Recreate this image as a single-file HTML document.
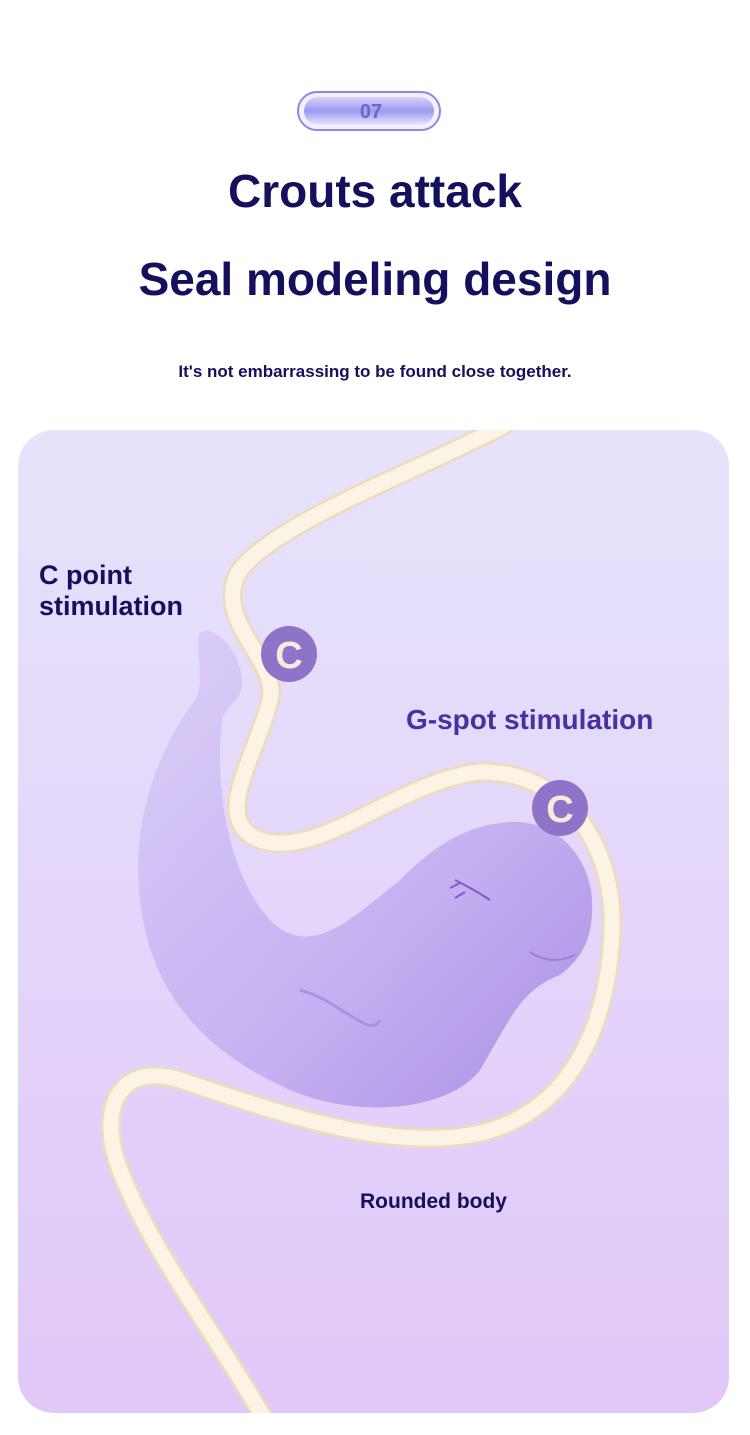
<!DOCTYPE html>
<html><head><meta charset="utf-8"><style>
body{margin:0;width:750px;height:1435px;background:#fff;position:relative;font-family:"Liberation Sans",sans-serif;overflow:hidden}
.t{position:absolute;left:0;width:750px;text-align:center;color:#14105e;font-weight:bold}
</style></head><body>
<svg width="750" height="1435" style="position:absolute;left:0;top:0">
<defs>
<linearGradient id="bg" x1="0" y1="0" x2="0" y2="1"><stop offset="0" stop-color="#e6e3fb"/><stop offset="1" stop-color="#e1c8f9"/></linearGradient>
<linearGradient id="pill" x1="0" y1="0" x2="0" y2="1"><stop offset="0" stop-color="#d6d4fb"/><stop offset=".5" stop-color="#9d98f0"/><stop offset="1" stop-color="#e8e6ff"/></linearGradient>
<linearGradient id="seal" x1="0" y1="0" x2="1" y2="1"><stop offset="0" stop-color="#dccff8"/><stop offset=".6" stop-color="#c4b0f2"/><stop offset="1" stop-color="#a990e2"/></linearGradient>
<clipPath id="cc"><rect x="18" y="430" width="711" height="983" rx="36"/></clipPath>
</defs>
<rect x="298" y="92" width="142" height="38" rx="19" fill="#f2f1ff" stroke="#8d88e6" stroke-width="2"/>
<rect x="304" y="97" width="130" height="28" rx="14" fill="url(#pill)"/>
<text x="371" y="118" text-anchor="middle" font-family="Liberation Sans" font-weight="bold" font-size="20" fill="#6c66c8">07</text>
<rect x="18" y="430" width="711" height="983" rx="36" fill="url(#bg)"/>
<g clip-path="url(#cc)" fill="none" stroke-linecap="round">
<path d="M505 425 C420 470 280 520 240 570 C210 620 280 660 270 700 C255 760 210 820 260 840 C320 860 400 780 480 772 C560 770 615 840 612 930 C608 1040 560 1120 470 1135 C380 1150 270 1110 180 1080 C110 1060 100 1120 120 1170 C150 1250 220 1340 265 1420" stroke="#ecdcbc" stroke-width="20"/>
<path d="M505 425 C420 470 280 520 240 570 C210 620 280 660 270 700 C255 760 210 820 260 840 C320 860 400 780 480 772 C560 770 615 840 612 930 C608 1040 560 1120 470 1135 C380 1150 270 1110 180 1080 C110 1060 100 1120 120 1170 C150 1250 220 1340 265 1420" stroke="#fbf3e3" stroke-width="15"/>
</g>
<path d="M200 632 C215 625 240 650 242 680 C244 700 225 705 222 720 C215 780 225 870 270 920 C310 960 350 920 400 880 C440 840 470 825 510 822 C560 820 590 860 592 900 C594 940 580 960 560 975 C520 990 510 1020 480 1070 C450 1110 360 1120 290 1090 C200 1050 150 990 140 900 C130 810 165 740 195 700 C205 685 195 650 200 632 Z" fill="url(#seal)"/>
<path d="M300 990 C340 1000 370 1040 380 1020" stroke="#a992e2" stroke-width="3" fill="none"/>
<path d="M530 952 C545 962 560 962 575 955" stroke="#9a80dc" stroke-width="2" fill="none"/>
<path d="M450 888 l10 -5 M455 898 l10 -6 M455 880 q20 10 35 20" stroke="#7a5cd0" stroke-width="2" fill="none"/>
<circle cx="289" cy="654" r="28" fill="#8e74c8"/>
<text x="289" y="668" text-anchor="middle" font-family="Liberation Sans" font-weight="bold" font-size="38" fill="#f6ecdc">C</text>
<circle cx="560" cy="808" r="28" fill="#8e74c8"/>
<text x="560" y="822" text-anchor="middle" font-family="Liberation Sans" font-weight="bold" font-size="38" fill="#f6ecdc">C</text>
</svg>
<div class="t" style="top:164px;font-size:46px">Crouts attack</div>
<div class="t" style="top:252px;font-size:46px">Seal modeling design</div>
<div class="t" style="top:362px;font-size:17px">It's not embarrassing to be found close together.</div>
<div style="position:absolute;left:39px;top:560px;font-size:27px;font-weight:bold;color:#14105e;line-height:31px">C point<br>stimulation</div>
<div style="position:absolute;left:406px;top:704px;font-size:28px;font-weight:bold;color:#4a2fa0">G-spot stimulation</div>
<div style="position:absolute;left:360px;top:1190px;font-size:21px;font-weight:bold;color:#14105e">Rounded body</div>
</body></html>
